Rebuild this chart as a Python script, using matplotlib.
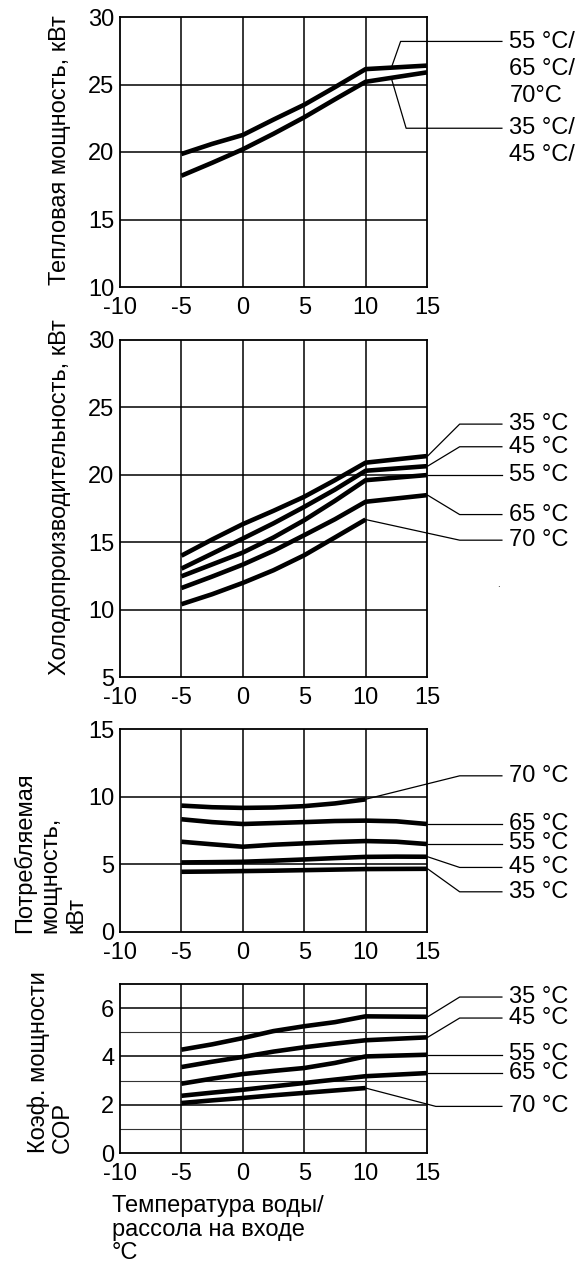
import numpy as np
import matplotlib
matplotlib.use("Agg")
import matplotlib.pyplot as plt

plt.rcParams['font.family'] = ['Liberation Sans', 'DejaVu Sans']

# --- data ---
x_heat = [-5, -2.5, 0, 2.5, 5, 7.5, 10, 15]
heat_55_65_70 = [19.85, 20.6, 21.26, 22.4, 23.5, 24.8, 26.14, 26.4]
heat_35_45 = [18.24, 19.2, 20.2, 21.35, 22.57, 23.9, 25.2, 25.9]

x_cool = [-5, -2.5, 0, 2.5, 5, 7.5, 10, 15]
cool_35 = [14.0, 15.2, 16.34, 17.33, 18.37, 19.6, 20.9, 21.39]
cool_45 = [13.04, 14.15, 15.27, 16.4, 17.62, 18.9, 20.3, 20.64]
cool_55 = [12.47, 13.35, 14.23, 15.35, 16.63, 18.07, 19.6, 19.98]
cool_65 = [11.6, 12.45, 13.34, 14.36, 15.52, 16.7, 18.0, 18.49]
cool_70 = [10.4, 11.14, 11.98, 12.92, 14.03, 15.35, 16.68, np.nan]

x_pow = [-5, -2.5, 0, 2.5, 5, 7.5, 10, 12.5, 15]
pow_70 = [9.34, 9.22, 9.17, 9.2, 9.3, 9.5, 9.8, np.nan, np.nan]
pow_65 = [8.33, 8.12, 7.98, 8.05, 8.12, 8.2, 8.23, 8.18, 7.98]
pow_55 = [6.67, 6.48, 6.3, 6.45, 6.55, 6.65, 6.72, 6.67, 6.5]
pow_45 = [5.14, 5.16, 5.19, 5.27, 5.36, 5.46, 5.55, 5.57, 5.56]
pow_35 = [4.45, 4.47, 4.5, 4.53, 4.57, 4.61, 4.65, 4.66, 4.67]

x_cop = [-5, -2.5, 0, 2.5, 5, 7.5, 10, 15]
cop_35 = [4.28, 4.5, 4.76, 5.05, 5.25, 5.42, 5.66, 5.64]
cop_45 = [3.56, 3.78, 3.98, 4.2, 4.38, 4.53, 4.67, 4.79]
cop_55 = [2.87, 3.08, 3.27, 3.4, 3.52, 3.73, 4.0, 4.07]
cop_65 = [2.37, 2.5, 2.62, 2.76, 2.9, 3.04, 3.18, 3.31]
cop_70 = [2.07, 2.18, 2.28, 2.39, 2.49, 2.59, 2.69, np.nan]

x_ticks = [-10, -5, 0, 5, 10, 15]

FS = 17
LW = 3.3
TX = 21.7   # x of right-hand labels (data units)
LE = 21.1   # end of leader lines

fig = plt.figure(figsize=(5.78, 12.64), dpi=100)

def make_ax(rect, ylim, yticks, ygrid):
    ax = fig.add_axes(rect)
    ax.set_xlim(-10, 15)
    ax.set_ylim(*ylim)
    ax.set_xticks(x_ticks)
    ax.set_xticklabels([str(v) for v in x_ticks])
    ax.set_yticks(yticks)
    ax.set_yticklabels([str(v) for v in yticks])
    ax.tick_params(length=0, labelsize=FS)
    ax.tick_params(axis='x', pad=7.5)
    ax.tick_params(axis='y', pad=4)
    for s in ax.spines.values():
        s.set_linewidth(1.3)
    for v in x_ticks[1:-1]:
        ax.axvline(v, color='black', lw=1.1, zorder=1)
    for v in ygrid:
        ax.axhline(v, color='black', lw=1.1, zorder=1)
    return ax

def curve(ax, x, y):
    ax.plot(x, y, color='black', lw=LW, solid_capstyle='butt',
            solid_joinstyle='round', zorder=3)

def leader(ax, pts, lines, y0, step):
    xs, ys = zip(*pts)
    ax.plot(xs, ys, color='black', lw=0.9, clip_on=False, zorder=2)
    for i, t in enumerate(lines):
        ax.text(TX, y0 - i * step, t, fontsize=FS, va='center', ha='left',
                clip_on=False)

# ---- panel 1: heating capacity ----
ax1 = make_ax([120/578, 1-287/1264, 307/578, 270/1264], (10, 30),
              [10, 15, 20, 25, 30], [15, 20, 25])
curve(ax1, x_heat, heat_55_65_70)
curve(ax1, x_heat, heat_35_45)
leader(ax1, [(12.1, 26.25), (12.85, 28.19), (LE, 28.19)],
       ["55 °C/", "65 °C/", "70°C"], 28.12, 2.0)
leader(ax1, [(12.1, 25.45), (13.3, 21.76), (LE, 21.76)],
       ["35 °C/", "45 °C/"], 21.76, 2.0)

# ---- panel 2: cooling capacity ----
ax2 = make_ax([120/578, 1-677/1264, 307/578, 337/1264], (5, 30),
              [5, 10, 15, 20, 25, 30], [10, 15, 20, 25])
for ys in [cool_35, cool_45, cool_55, cool_65, cool_70]:
    curve(ax2, x_cool, ys)
leader(ax2, [(15.05, 21.39), (17.66, 23.76), (LE, 23.76)], ["35 °C"], 23.76, 0)
leader(ax2, [(15.05, 20.64), (17.66, 22.08), (LE, 22.08)], ["45 °C"], 22.08, 0)
leader(ax2, [(15.05, 19.98), (LE, 19.98)], ["55 °C"], 19.98, 0)
leader(ax2, [(15.05, 18.49), (17.66, 17.05), (LE, 17.05)], ["65 °C"], 17.05, 0)
leader(ax2, [(10, 16.68), (17.66, 15.15), (LE, 15.15)], ["70 °C"], 15.15, 0)
ax2.text(20.8, 11.9, ".", fontsize=7, ha='center', va='center', clip_on=False)

# ---- panel 3: power input ----
ax3 = make_ax([120/578, 1-932/1264, 307/578, 203/1264], (0, 15),
              [0, 5, 10, 15], [5, 10])
for ys in [pow_70, pow_65, pow_55, pow_45, pow_35]:
    curve(ax3, x_pow, ys)
leader(ax3, [(10, 9.81), (17.66, 11.54), (LE, 11.54)], ["70 °C"], 11.54, 0)
leader(ax3, [(15.05, 7.98), (LE, 7.98)], ["65 °C"], 7.98, 0)
leader(ax3, [(15.05, 6.5), (LE, 6.5)], ["55 °C"], 6.6, 0)
leader(ax3, [(15.05, 5.56), (17.66, 4.77), (LE, 4.77)], ["45 °C"], 4.77, 0)
leader(ax3, [(15.05, 4.67), (17.66, 2.97), (LE, 2.97)], ["35 °C"], 2.97, 0)

# ---- panel 4: COP ----
ax4 = make_ax([120/578, 1-1153/1264, 307/578, 169/1264], (0, 7),
              [0, 2, 4, 6], [2, 4, 6])
for v in [1, 3, 5]:
    ax4.axhline(v, color='#333333', lw=0.8, zorder=1)
for ys in [cop_35, cop_45, cop_55, cop_65, cop_70]:
    curve(ax4, x_cop, ys)
leader(ax4, [(15.05, 5.64), (17.66, 6.46), (LE, 6.46)], ["35 °C"], 6.46, 0)
leader(ax4, [(15.05, 4.79), (17.66, 5.59), (LE, 5.59)], ["45 °C"], 5.59, 0)
leader(ax4, [(15.05, 4.07), (LE, 4.07)], ["55 °C"], 4.1, 0)
leader(ax4, [(15.05, 3.31), (LE, 3.31)], ["65 °C"], 3.31, 0)
leader(ax4, [(10, 2.69), (15.72, 1.93), (LE, 1.93)], ["70 °C"], 1.93, 0)

# ---- axis titles ----
fig.text(60/578, 1-150/1264, "Тепловая мощность, кВт", rotation=90,
         fontsize=FS, ha='center', va='center')
fig.text(60/578, 1-675/1264, "Холодопроизводительность, кВт", rotation=90,
         fontsize=FS, ha='center', va='bottom')
fig.text(50/578, 1-933/1264, "Потребляемая\nмощность,\nкВт", rotation=90,
         fontsize=FS, ha='center', va='bottom', multialignment='left',
         linespacing=1.2)
fig.text(51/578, 1-1153/1264, "Коэф. мощности\nCOP", rotation=90,
         fontsize=FS, ha='center', va='bottom', multialignment='left',
         linespacing=1.1)
fig.text(112/578, 1-1195/1264, "Температура воды/\nрассола на входе\n°C",
         fontsize=FS, ha='left', va='top', linespacing=1.1)

fig.savefig("out.png", dpi=100)
